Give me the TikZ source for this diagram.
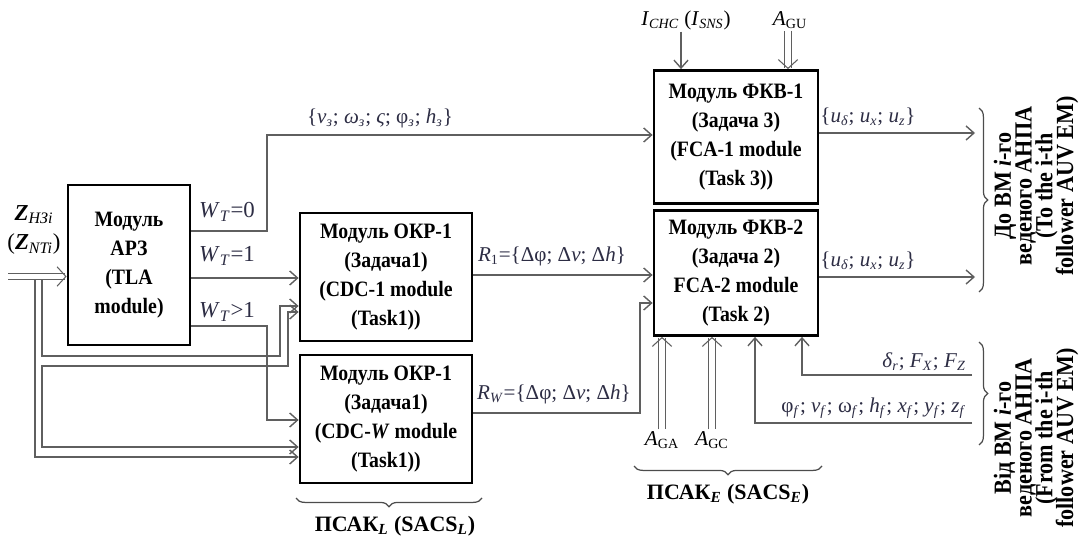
\documentclass[tikz,border=0pt]{standalone}
\usepackage{fontspec}
\setmainfont{Liberation Serif}
\newfontfamily\boxfont[FakeStretch=0.9]{Liberation Serif}
\usepackage{xcolor}
\usetikzlibrary{arrows.meta, calc, positioning, decorations.pathreplacing}

\definecolor{linecol}{RGB}{95,95,95}
\definecolor{labcol}{RGB}{45,45,68}
\newcommand{\lsub}[1]{\textsubscript{#1}}
\newcommand{\tightlines}{\lineskiplimit=-20pt\relax}

\tikzset{
	barb/.tip={Straight Barb[length=4.5pt,width=8pt]},
	module/.style={draw=black, line width=1.6pt, fill=white, align=center,
		font=\boxfont\fontsize{12.5}{16.5}\selectfont\bfseries, inner sep=2pt},
	conn/.style={draw=linecol, line width=0.8pt, -barb},
	dconn/.style={draw=linecol, double=white, double distance=3pt, line width=0.6pt,
		-{Straight Barb[length=5pt,width=11pt]}},
	lab/.style={text=labcol, font=\fontsize{12}{14}\selectfont, inner sep=1pt},
	sig/.style={text=black, font=\fontsize{12}{14}\selectfont, inner sep=1pt},
	side/.style={rotate=90, align=center,
		font=\boxfont\fontsize{14}{11.8}\selectfont\bfseries\tightlines},
	brc/.style={draw=black!70, line width=0.7pt, decorate, decoration={brace, amplitude=5pt}},
}

\begin{document}
\begin{tikzpicture}[x=0.02cm, y=-0.02cm]
	\useasboundingbox (0,0) rectangle (1084,540);
	% 模块
	\node[module, minimum width=2.44cm, minimum height=3.2cm] (tla) at (129,265) {Модуль\\АРЗ\\(TLA\\module)};
	\node[module, minimum width=3.44cm, minimum height=2.56cm] (okr1) at (386,277) {Модуль ОКР-1\\(Задача1)\\(CDC-1 module\\(Task1))};
	\node[module, minimum width=3.44cm, minimum height=2.56cm] (okrw) at (386,419) {Модуль ОКР-1\\(Задача1)\\(CDC-\textit{W} module\\(Task1))};
	\node[module, minimum width=3.28cm, minimum height=2.66cm] (fkv1) at (736,137) {Модуль ФКВ-1\\(Задача 3)\\(FCA-1 module\\(Task 3))};
	\node[module, minimum width=3.28cm, minimum height=2.5cm] (fkv2) at (736,273) {Модуль ФКВ-2\\(Задача 2)\\FCA-2 module\\(Task 2)};
	% 输入 Z
	\node[sig, align=center, font=\fontsize{13}{14}\selectfont] (zlab) at (34,230) {\textbf{\textit{Z}}\lsub{\textit{HЗi}}\\[3pt](\textbf{\textit{Z}}\lsub{\textit{NTi}})};
	\coordinate (zin) at (8,276.5);
	\draw[dconn] (zin) -- (zin -| tla.west);
	\coordinate (bus1) at (35,280.5);
	\coordinate (bus2) at (42,280.5);
	\coordinate (k1) at (280,356);
	\coordinate (k2) at (42,366);
	\coordinate (k3) at (288,312);
	\draw[conn] (bus1) |- (okrw.west |- 0,457);
	\draw[conn] (bus2) |- (k1) |- (okr1.west |- 0,306);
	\draw[conn, barb-barb] (okrw.west |- 0,447) -| (k2) -| (k3) -- (okr1.west |- 0,312);
	% 模块 АРЗ 的输出
	\draw[conn] (tla.east |- 0,231) -| (267,135) -- (fkv1.west |- 0,135);
	\draw[conn] (tla.east |- 0,278) -- (okr1.west |- 0,278);
	\draw[conn] (tla.east |- 0,326) -| (267,420) -- (okrw.west |- 0,420);
	\node[lab, font=\fontsize{13}{14}\selectfont] (w0) at (227,212) {\textit{W}\lsub{\textit{T}}=0};
	\node[lab, font=\fontsize{13}{14}\selectfont] (w1) at (227,256) {\textit{W}\lsub{\textit{T}}=1};
	\node[lab, font=\fontsize{13}{14}\selectfont] (w2) at (227,312) {\textit{W}\lsub{\textit{T}}>1};
	\node[lab] (vset) at (380,118) {\{\textit{v}\lsub{\textit{з}}; \textit{ω}\lsub{\textit{з}}; \textit{ς}; φ\lsub{\textit{з}}; \textit{h}\lsub{\textit{з}}\}};
	% 模块 ОКР 的输出
	\draw[conn] (okr1.east |- 0,275) -- (fkv2.west |- 0,275);
	\draw[conn] (okrw.east |- 0,413) -| (640,303) -- (fkv2.west |- 0,303);
	\node[lab] (r1) at (552,256) {\textit{R}\lsub{1}=\{Δφ; Δ\textit{v}; Δ\textit{h}\}};
	\node[lab] (rw) at (554,394) {\textit{R}\lsub{\textit{W}}=\{Δφ; Δ\textit{v}; Δ\textit{h}\}};
	% 模块 ФКВ 的输入
	\node[sig] (ichc) at (686,20) {\textit{I}\lsub{\textit{CHC}} (\textit{I}\lsub{\textit{SNS}})};
	\node[sig] (agu) at (790,20) {\textit{A}\lsub{GU}};
	\draw[conn] (ichc.south -| 681,0) -- (fkv1.north -| 681,0);
	\draw[dconn] (agu.south -| 788,0) -- (fkv1.north -| 788,0);
	\node[sig] (aga) at (662,440) {\textit{A}\lsub{GA}};
	\node[sig] (agc) at (712,440) {\textit{A}\lsub{GC}};
	\draw[dconn] (aga.north -| 662,0) -- (fkv2.south -| 662,0);
	\draw[dconn] (agc.north -| 712,0) -- (fkv2.south -| 712,0);
	\coordinate (phiend) at (972,423);
	\coordinate (delend) at (972,375);
	\draw[conn] (phiend) -| (fkv2.south -| 755,0);
	\draw[conn] (delend) -| (fkv2.south -| 802,0);
	\node[lab, anchor=south east] (dlab) at (968,373) {\textit{δ}\lsub{\textit{r}}; \textit{F}\lsub{\textit{X}}; \textit{F}\lsub{\textit{Z}}};
	\node[lab, anchor=south east] (plab) at (968,421) {φ\lsub{\textit{f}}; \textit{v}\lsub{\textit{f}}; ω\lsub{\textit{f}}; \textit{h}\lsub{\textit{f}}; \textit{x}\lsub{\textit{f}}; \textit{y}\lsub{\textit{f}}; \textit{z}\lsub{\textit{f}}};
	% 模块 ФКВ 的输出
	\coordinate (out1) at (975,133);
	\coordinate (out2) at (975,277);
	\draw[conn] (fkv1.east |- out1) -- (out1);
	\draw[conn] (fkv2.east |- out2) -- (out2);
	\node[lab] (u1) at (868,117) {\{\textit{u}\lsub{\textit{δ}}; \textit{u}\lsub{\textit{x}}; \textit{u}\lsub{\textit{z}}\}};
	\node[lab] (u2) at (868,261) {\{\textit{u}\lsub{\textit{δ}}; \textit{u}\lsub{\textit{x}}; \textit{u}\lsub{\textit{z}}\}};
	% 括号
	\draw[brc] (979,108) -- (979,292);
	\draw[brc] (979,342) -- (979,445);
	\node[side] (toauv) at (1036,186) {До ВМ \textit{i}-го\\веденого АНПА\\(To the i-th\\follower AUV EM)};
	\node[side] (fromauv) at (1036,438) {Від ВМ \textit{i}-го\\веденого АНПА\\(From the i-th\\follower AUV EM)};
	\draw[brc] (482,498) -- (296,498);
	\draw[brc] (822,466) -- (634,466);
	\node[sig, font=\fontsize{12.5}{14}\selectfont\bfseries] (sacsl) at (395,526) {ПСАК\lsub{\textit{L}} (SACS\lsub{\textit{L}})};
	\node[sig, font=\fontsize{12.5}{14}\selectfont\bfseries] (sacse) at (728,494) {ПСАК\lsub{\textit{E}} (SACS\lsub{\textit{E}})};
\end{tikzpicture}
\end{document}
